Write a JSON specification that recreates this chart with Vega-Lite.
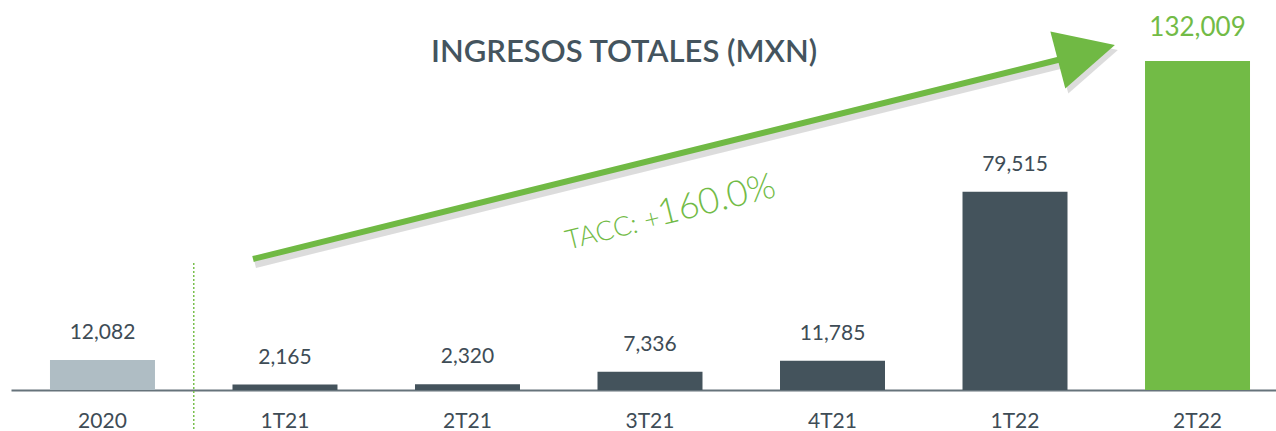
{
  "$schema": "https://vega.github.io/schema/vega-lite/v6.json",
  "width": 1265,
  "height": 390,
  "autosize": {"type": "none"},
  "padding": {"left": 11, "top": 0, "right": 0, "bottom": 41},
  "background": "white",
  "config": {"view": {"stroke": null}, "font": "Lato"},
  "resolve": {"scale": {"x": "independent"}},
  "layer": [
    {
      "data": {
        "values": [
          {"period": "2020", "value": 12082, "group": "anual", "label": "12,082"},
          {"period": "1T21", "value": 2165, "group": "trimestre", "label": "2,165"},
          {"period": "2T21", "value": 2320, "group": "trimestre", "label": "2,320"},
          {"period": "3T21", "value": 7336, "group": "trimestre", "label": "7,336"},
          {"period": "4T21", "value": 11785, "group": "trimestre", "label": "11,785"},
          {"period": "1T22", "value": 79515, "group": "trimestre", "label": "79,515"},
          {"period": "2T22", "value": 132009, "group": "actual", "label": "132,009"}
        ]
      },
      "encoding": {
        "x": {
          "field": "period",
          "type": "nominal",
          "sort": null,
          "scale": {"type": "band", "paddingInner": 0.4247, "paddingOuter": 0.178, "align": 0.6},
          "axis": {
            "title": null,
            "labelAngle": 0,
            "labelFont": "Lato",
            "labelFontSize": 21,
            "labelColor": "#3e4c56",
            "labelBaseline": "alphabetic",
            "labelPadding": 37,
            "ticks": false,
            "tickSize": 0,
            "domainColor": "#66737b",
            "domainWidth": 2,
            "grid": false
          }
        },
        "y": {
          "field": "value",
          "type": "quantitative",
          "scale": {"domain": [0, 156484], "nice": false, "zero": true},
          "axis": null
        }
      },
      "layer": [
        {
          "mark": {"type": "bar"},
          "encoding": {
            "color": {
              "field": "group",
              "type": "nominal",
              "scale": {"domain": ["anual", "trimestre", "actual"], "range": ["#afbdc4", "#44535c", "#72bb46"]},
              "legend": null
            }
          }
        },
        {
          "transform": [{"filter": "datum.group != 'actual'"}],
          "mark": {"type": "text", "baseline": "alphabetic", "dy": -21, "fontSize": 21, "font": "Lato", "color": "#3e4c56"},
          "encoding": {"text": {"field": "label"}}
        },
        {
          "transform": [{"filter": "datum.group == 'actual'"}],
          "mark": {"type": "text", "baseline": "alphabetic", "dy": -25, "fontSize": 26, "font": "Lato", "color": "#72bb46"},
          "encoding": {"text": {"field": "label"}}
        }
      ]
    },
    {
      "encoding": {
        "x": {
          "field": "xi",
          "type": "quantitative",
          "scale": {"domain": [-0.5014, 6.4301], "nice": false, "zero": false},
          "axis": null
        },
        "y": {
          "field": "value",
          "type": "quantitative",
          "scale": {"domain": [0, 156484], "nice": false, "zero": true},
          "axis": null
        }
      },
      "layer": [
        {
          "data": {"values": [{"xi": 0.5, "value": 50957, "value2": -16451}]},
          "mark": {"type": "rule", "color": "#79c04d", "strokeWidth": 1.5, "strokeDash": [2, 2], "clip": false},
          "encoding": {"y2": {"field": "value2"}}
        },
        {
          "data": {"values": [{"xi": 0.8247, "value": 52562}, {"xi": 5.30, "value": 133600}]},
          "mark": {"type": "line", "color": "#8a8a8a", "opacity": 0.3, "strokeWidth": 8, "yOffset": 5, "xOffset": 2},
          "encoding": {}
        },
        {
          "data": {"values": [{"xi": 0.8247, "value": 52562}, {"xi": 5.30, "value": 133600}]},
          "mark": {"type": "line", "color": "#70b944", "strokeWidth": 6},
          "encoding": {}
        },
        {
          "data": {"values": [{"xi": 5.391, "value": 135418}]},
          "mark": {"type": "point", "shape": "M1,0L-1,-1L-1,1Z", "size": 3481, "angle": -14.7, "filled": true, "color": "#8a8a8a", "opacity": 0.3, "yOffset": 5, "xOffset": 3}
        },
        {
          "data": {"values": [{"xi": 5.391, "value": 135418}]},
          "mark": {"type": "point", "shape": "M1,0L-1,-1L-1,1Z", "size": 3481, "angle": -14.7, "filled": true, "color": "#70b944", "opacity": 1}
        },
        {
          "data": {"values": [{"xi": 2.55, "value": 56300, "label": "TACC: +"}]},
          "mark": {"type": "text", "align": "left", "baseline": "alphabetic", "angle": -14, "fontSize": 27, "font": "Lato", "fontWeight": 300, "color": "#72bb46"},
          "encoding": {"text": {"field": "label"}}
        },
        {
          "data": {"values": [{"xi": 3.06, "value": 66004, "label": "160.0%"}]},
          "mark": {"type": "text", "align": "left", "baseline": "alphabetic", "angle": -14, "fontSize": 36, "font": "Lato", "fontWeight": 300, "color": "#72bb46"},
          "encoding": {"text": {"field": "label"}}
        },
        {
          "data": {"values": [{"xi": 2.858, "value": 131607, "label": "INGRESOS TOTALES (MXN)"}]},
          "mark": {"type": "text", "align": "center", "baseline": "alphabetic", "fontSize": 31, "font": "Lato", "fontWeight": 600, "color": "#44545e"},
          "encoding": {"text": {"field": "label"}}
        }
      ]
    }
  ]
}
